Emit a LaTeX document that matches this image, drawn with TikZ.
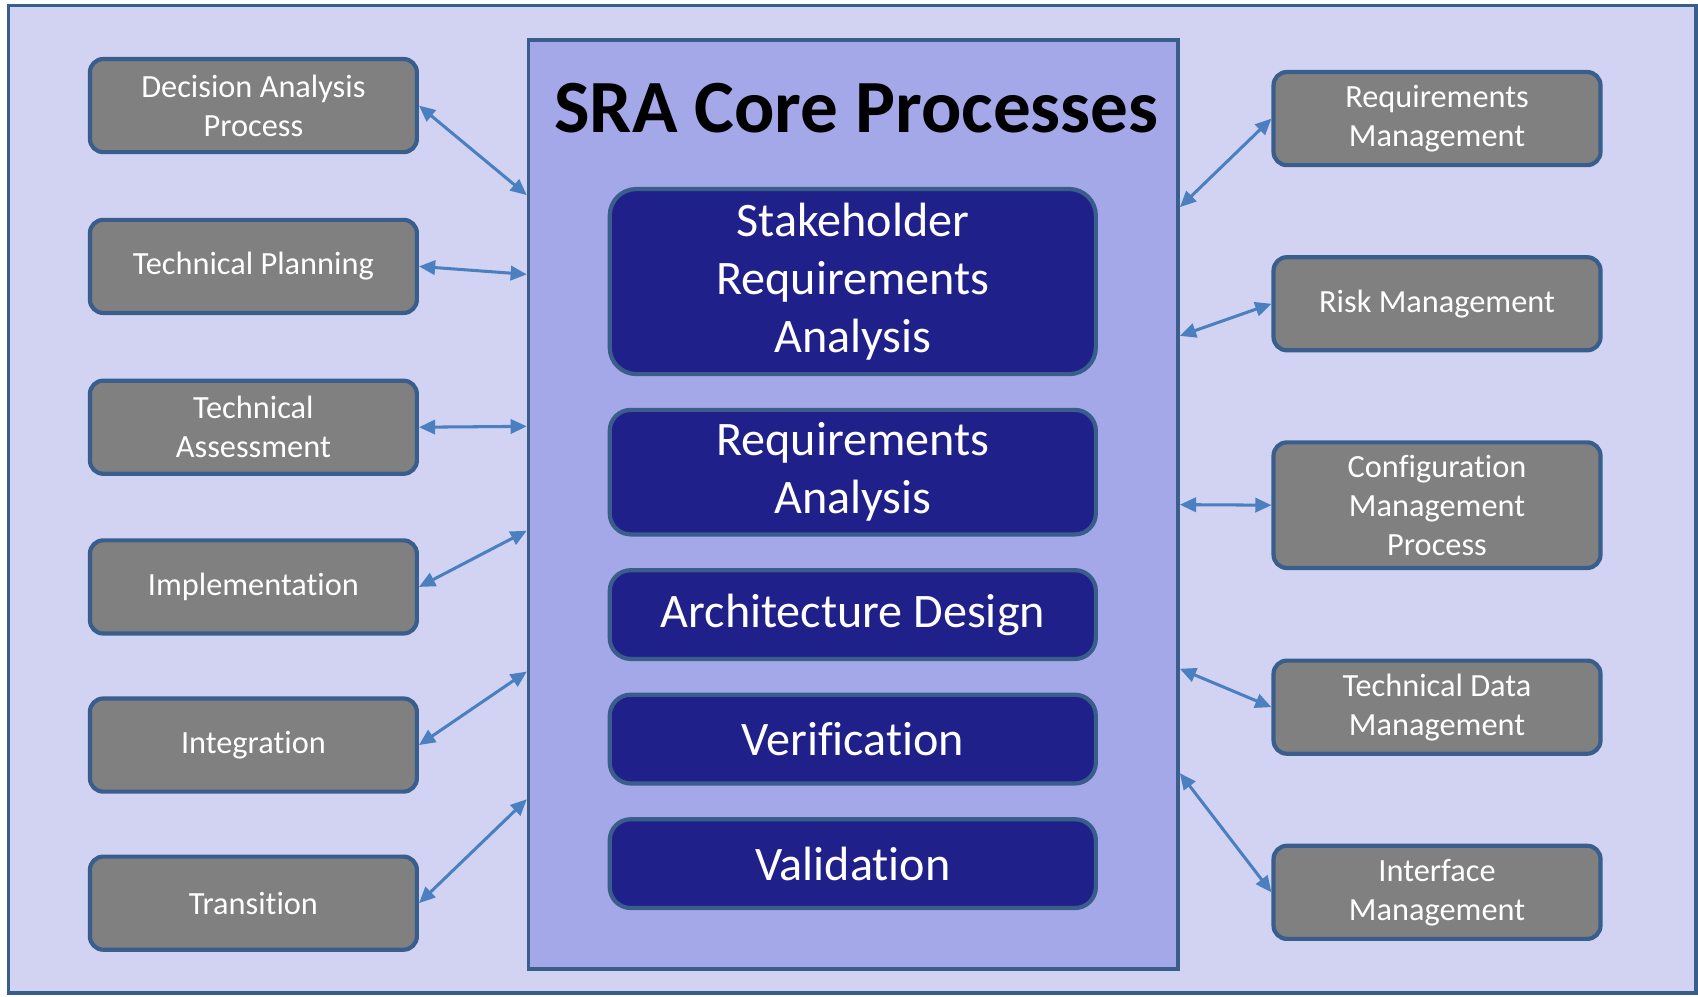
\documentclass[tikz,border=0pt]{standalone}
\usepackage{fontspec}
\setmainfont{Carlito}[Ligatures=NoCommon]
\usetikzlibrary{arrows.meta,calc}

\definecolor{framecol}{RGB}{58,94,140}
\definecolor{outerfill}{RGB}{210,211,243}
\definecolor{corefill}{RGB}{165,168,232}
\definecolor{navybox}{RGB}{32,32,138}
\definecolor{greybox}{RGB}{128,128,128}
\definecolor{linkblue}{RGB}{74,128,192}

\begin{document}
\begin{tikzpicture}[x=0.02cm, y=-0.02cm,
  sidebox/.style = {shape=rectangle, rounded corners=7pt, draw=framecol, line width=2.2pt, fill=greybox, text=white, align=center, inner sep=1pt, minimum width=6.04cm, minimum height=1.72cm, font=\fontsize{17}{20.5}\selectfont},
  corebox/.style = {shape=rectangle, rounded corners=11pt, draw=framecol, line width=2.2pt, fill=navybox, text=white, align=center, inner sep=1pt, minimum width=8.98cm, minimum height=1.64cm, font=\fontsize{25.3}{30.5}\selectfont},
  link/.style = {draw=linkblue, line width=1.6pt, {Triangle[length=8.5pt,width=7.5pt]}-{Triangle[length=8.5pt,width=7.5pt]}}]
  \fill[white] (0,0) rectangle (1568,920);
  \useasboundingbox (0,0) rectangle (1568,920);
  \draw[draw=framecol, line width=1.8pt, fill=outerfill] (8,5) rectangle (1566,917);

  % centre block
  \node[draw=framecol, line width=1.8pt, fill=corefill, minimum width=12cm, minimum height=17.16cm] (core) at (788,466) {};
  \node[font=\fontsize{39.5}{44}\selectfont\bfseries] (title) at (791,100) {SRA Core Processes};
  \node[corebox, minimum height=3.42cm, rounded corners=14pt] (sra) at (787.5,260) {Stakeholder\\Requirements\\Analysis};
  \node[corebox, minimum height=2.3cm] (ra) at (787.5,436) {Requirements\\Analysis};
  \node[corebox] (ad) at (787.5,567.5) {Architecture Design};
  \node[corebox] (ver) at (787.5,682.5) {Verification};
  \node[corebox] (val) at (787.5,797.5) {Validation};

  % left side
  \node[sidebox] (dap) at (234,97.5) {Decision Analysis\\Process};
  \node[sidebox] (tp) at (234,246) {Technical Planning};
  \node[sidebox] (ta) at (234,394.5) {Technical\\Assessment};
  \node[sidebox] (impl) at (234,542) {Implementation};
  \node[sidebox] (integ) at (234,688) {Integration};
  \node[sidebox] (trans) at (234,834) {Transition};

  % right side
  \node[sidebox] (reqm) at (1327,109.5) {Requirements\\Management};
  \node[sidebox] (risk) at (1327,280.5) {Risk Management};
  \node[sidebox, minimum height=2.32cm] (conf) at (1327,466.5) {Configuration\\Management\\Process};
  \node[sidebox] (tdm) at (1327,653) {Technical Data\\Management};
  \node[sidebox] (intf) at (1327,824) {Interface\\Management};

  \draw[link] (dap.east) -- ($(core.north west)!0.168!(core.south west)$);
  \draw[link] (tp.east) -- ($(core.north west)!0.253!(core.south west)$);
  \draw[link] (ta.east) -- ($(core.north west)!0.416!(core.south west)$);
  \draw[link] (impl.east) -- ($(core.north west)!0.528!(core.south west)$);
  \draw[link] (integ.east) -- ($(core.north west)!0.679!(core.south west)$);
  \draw[link] (trans.east) -- ($(core.north west)!0.816!(core.south west)$);

  \draw[link] ($(core.north east)!0.181!(core.south east)$) -- (reqm.west);
  \draw[link] ($(core.north east)!0.319!(core.south east)$) -- (risk.west);
  \draw[link] ($(core.north east)!0.5!(core.south east)$) -- (conf.west);
  \draw[link] ($(core.north east)!0.676!(core.south east)$) -- (tdm.west);
  \draw[link] ($(core.north east)!0.788!(core.south east)$) -- (intf.west);
\end{tikzpicture}
\end{document}
